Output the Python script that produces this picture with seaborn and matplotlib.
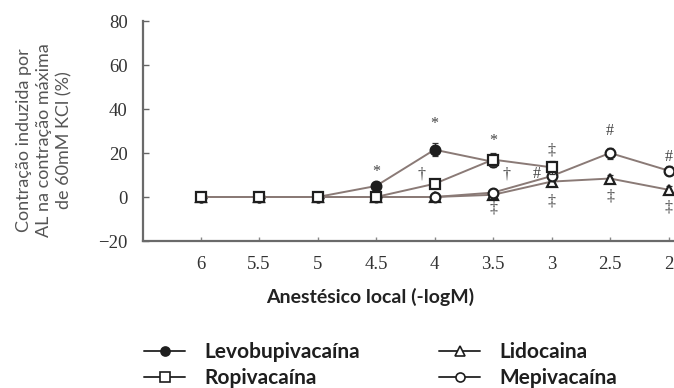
import matplotlib
matplotlib.use("Agg")
import matplotlib.pyplot as plt
from matplotlib.lines import Line2D
import seaborn as sns
import pandas as pd

# Concentrations (-log M) and mean contraction (% of 60 mM KCl maximum)
doses = [6, 5.5, 5, 4.5, 4, 3.5, 3, 2.5, 2]
levo_mean = [0, 0, 0, 5, 21.5, 16]
ropi_mean = [0, 0, 0, 0, 6, 17, 13.5]
lido_mean = [0, 0, 0, 0, 0, 1, 7, 8.4, 3.3]
mepi_mean = [0, 0, 0, 0, 0, 2, 9.5, 20, 12]

levo_sem = [0, 0, 0, 1, 3, 2.5]
ropi_sem = [0, 0, 0, 0.5, 1.5, 3, 3]
lido_sem = [0, 0, 0, 0, 0, 0.5, 1.5, 1.5, 1.5]
mepi_sem = [0, 0, 0, 0, 0, 0.5, 2, 2.5, 2]

series_names = ["Levobupivacaína", "Ropivacaína", "Lidocaina", "Mepivacaína"]
y_ticks = [-20, 0, 20, 40, 60, 80]
x_ticks = [6, 5.5, 5, 4.5, 4, 3.5, 3, 2.5, 2]
x_tick_labels = ["6", "5.5", "5", "4.5", "4", "3.5", "3", "2.5", "2"]

# Significance marks: (series, dose, symbol, dx, dy) offsets in points
marks = [
    ("Levobupivacaína", 4.5, "*", 0, 10),
    ("Levobupivacaína", 4, "*", 0, 18.5),
    ("Levobupivacaína", 3.5, "*", 0, 15),
    ("Ropivacaína", 4, "†", -9.5, 7),
    ("Ropivacaína", 3.5, "†", 9.5, -11),
    ("Mepivacaína", 3.5, "‡", 0, -11.5),
    ("Ropivacaína", 3, "‡", 0, 12),
    ("Mepivacaína", 3, "#", -10.5, 1.5),
    ("Lidocaina", 3, "‡", 0, -14),
    ("Mepivacaína", 2.5, "#", 0, 16),
    ("Lidocaina", 2.5, "‡", 0, -13),
    ("Mepivacaína", 2, "#", 0, 9.5),
    ("Lidocaina", 2, "‡", 0, -13),
]

means = dict(zip(series_names, [levo_mean, ropi_mean, lido_mean, mepi_mean]))
sems = dict(zip(series_names, [levo_sem, ropi_sem, lido_sem, mepi_sem]))

rows = []
for name in series_names:
    for d, m, s in zip(doses, means[name], sems[name]):
        rows.append({"droga": name, "dose": d, "contr": m, "sem": s})
df = pd.DataFrame(rows)

sns.set_theme(style="white")
plt.rcParams["font.family"] = ["Lato", "DejaVu Sans"]

fig = plt.figure(figsize=(6.74, 3.88), dpi=100)
ax = fig.add_axes([143 / 674, 1 - 241 / 388, 1 - 143 / 674, 220 / 388])

line_col = "#8a7a76"
edge_col = "#1e1e1e"
styles = {
    "Levobupivacaína": dict(marker="o", mfc=edge_col, z=3),
    "Lidocaina": dict(marker="^", mfc="white", z=4),
    "Mepivacaína": dict(marker="o", mfc="white", z=5),
    "Ropivacaína": dict(marker="s", mfc="white", z=6),
}

for name in ["Levobupivacaína", "Lidocaina", "Mepivacaína", "Ropivacaína"]:
    sub = df[df["droga"] == name]
    st = styles[name]
    ax.errorbar(sub["dose"], sub["contr"], yerr=sub["sem"], fmt="none",
                ecolor="#333333", elinewidth=0.9, capsize=2.2, capthick=0.9,
                zorder=st["z"] - 0.5)
    sns.lineplot(data=sub, x="dose", y="contr", ax=ax, color=line_col,
                 linewidth=1.4, marker=st["marker"], markersize=7,
                 markerfacecolor=st["mfc"], markeredgecolor=edge_col,
                 markeredgewidth=1.6, zorder=st["z"], errorbar=None,
                 legend=False)

for name, d, sym, dx, dy in marks:
    yv = means[name][doses.index(d)]
    ax.annotate(sym, (d, yv), xytext=(dx, dy), textcoords="offset points",
                ha="center", va="center", fontsize=11.5, color="#444444",
                family=["Liberation Serif", "DejaVu Serif"], zorder=8,
                annotation_clip=False)

ax.set_xlim(6.4915, 1.953)
ax.set_ylim(-20, 80)
ax.set_xticks(x_ticks)
ax.set_xticklabels(x_tick_labels)
ax.set_yticks(y_ticks)

for lab in ax.get_xticklabels() + ax.get_yticklabels():
    lab.set_family(["Liberation Serif", "DejaVu Serif"])
    lab.set_fontsize(13.5)
    lab.set_color("#333333")

ax.tick_params(axis="y", direction="in", length=4, width=1, color="#666666",
               pad=11, left=True)
ax.tick_params(axis="x", direction="in", length=3, width=1, color="#888888",
               pad=11, bottom=True)

for side in ["top", "right"]:
    ax.spines[side].set_visible(False)
for side in ["left", "bottom"]:
    ax.spines[side].set_color("#6a6a6a")
    ax.spines[side].set_linewidth(1.6)

ax.set_xlabel("Anestésico local (-logM)", fontsize=14, fontweight="bold",
              color="#222222")
ax.xaxis.set_label_coords((370 - 143) / 531, (241 - 296.5) / 220)
ax.xaxis.label.set_va("center")

ax.set_ylabel("Contração induzida por\nAL na contração máxima\nde 60mM KCl (%)",
              fontsize=13, color="#555555", linespacing=1.3)
ax.yaxis.set_label_coords((44 - 143) / 531, (241 - 140) / 220)
ax.yaxis.label.set_va("center")
ax.yaxis.label.set_ha("center")

# Legend: two columns below the axes
handles = []
for name in series_names:
    st = styles[name]
    handles.append(Line2D([], [], color="#333333", linewidth=1.4,
                          marker=st["marker"], markersize=6.5,
                          markerfacecolor=st["mfc"], markeredgecolor=edge_col,
                          markeredgewidth=1.2))
leg = fig.legend(handles, series_names, ncol=2, loc="center left",
                 bbox_to_anchor=(144 / 674, 1 - 365 / 388), frameon=False,
                 prop={"family": ["Lato", "DejaVu Sans"], "weight": "bold",
                       "size": 15},
                 handlelength=1.97, handletextpad=0.92, columnspacing=3.8,
                 labelspacing=0.3, borderaxespad=0, borderpad=0)
for t in leg.get_texts():
    t.set_color("#1e1e1e")

fig.savefig("out.png", dpi=100, facecolor="white")
